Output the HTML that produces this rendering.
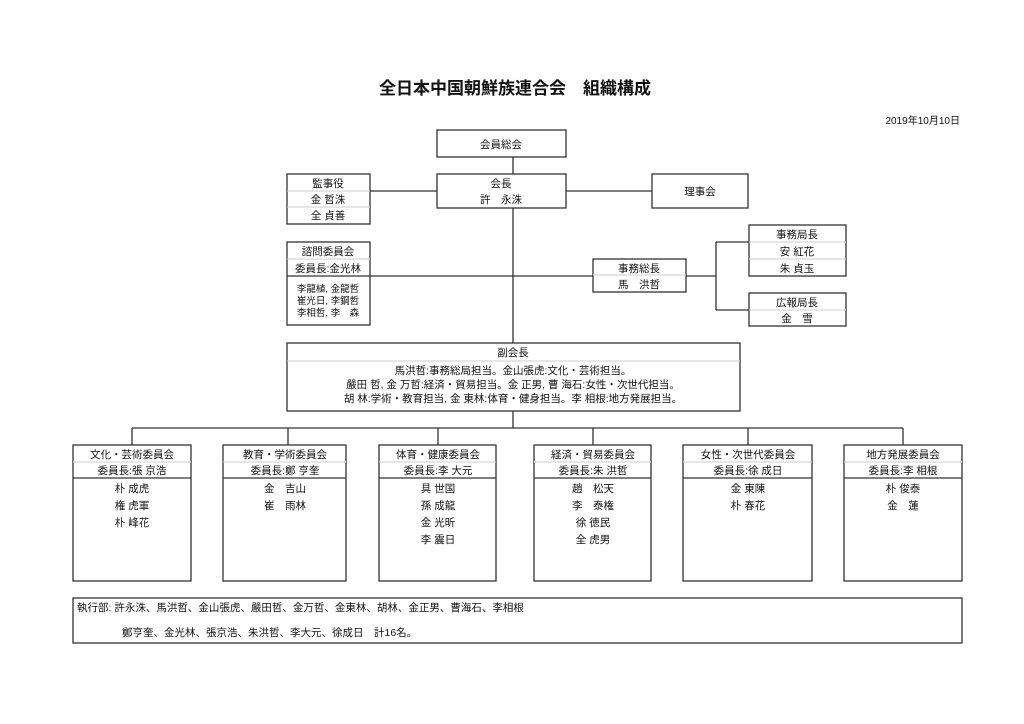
<!DOCTYPE html>
<html><head><meta charset="utf-8"><style>
body{margin:0;background:#fff;}
svg{display:block;}
text{font-family:"Liberation Sans","Noto Sans CJK JP",sans-serif;font-size:10.5px;fill:#111;}
</style></head><body>
<svg width="1024" height="724" viewBox="0 0 1024 724" xmlns="http://www.w3.org/2000/svg">
<g stroke="#333" stroke-width="1.3" fill="none">
<!-- connectors -->
<line x1="513" y1="157" x2="513" y2="174"/>
<line x1="513" y1="208" x2="513" y2="343"/>
<line x1="370" y1="191" x2="437" y2="191"/>
<line x1="566" y1="191" x2="652" y2="191"/>
<line x1="370" y1="276" x2="593" y2="276"/>
<line x1="686" y1="276" x2="716" y2="276"/>
<line x1="716" y1="242" x2="716" y2="310"/>
<line x1="716" y1="242" x2="749" y2="242"/>
<line x1="716" y1="310" x2="749" y2="310"/>
<line x1="513" y1="411" x2="513" y2="428"/>
<line x1="132" y1="428" x2="903" y2="428"/>
<line x1="132" y1="428" x2="132" y2="445"/>
<line x1="288" y1="428" x2="288" y2="445"/>
<line x1="438" y1="428" x2="438" y2="445"/>
<line x1="593" y1="428" x2="593" y2="445"/>
<line x1="748" y1="428" x2="748" y2="445"/>
<line x1="903" y1="428" x2="903" y2="445"/>
<!-- boxes -->
<rect x="437" y="130" width="129" height="27"/>
<rect x="437" y="174" width="129" height="34"/>
<rect x="287" y="174" width="83" height="50"/>
<rect x="652" y="174" width="96" height="34"/>
<rect x="287" y="242" width="83" height="83"/>
<rect x="593" y="259" width="93" height="33"/>
<rect x="749" y="225" width="97" height="51"/>
<rect x="749" y="293" width="97" height="33"/>
<rect x="287" y="343" width="453" height="68"/>
<rect x="73" y="445" width="118" height="136"/>
<rect x="223" y="445" width="123" height="136"/>
<rect x="379" y="445" width="117" height="136"/>
<rect x="534" y="445" width="117" height="136"/>
<rect x="683" y="445" width="129" height="136"/>
<rect x="844" y="445" width="118" height="136"/>
<rect x="73" y="598" width="889" height="45"/>
<!-- dark dividers -->
<line x1="287" y1="276" x2="370" y2="276"/>
<line x1="593" y1="275" x2="686" y2="275" stroke="#ccc" stroke-width="1"/>
<line x1="73" y1="478" x2="191" y2="478"/>
<line x1="223" y1="478" x2="346" y2="478"/>
<line x1="379" y1="478" x2="496" y2="478"/>
<line x1="534" y1="478" x2="651" y2="478"/>
<line x1="683" y1="478" x2="812" y2="478"/>
<line x1="844" y1="478" x2="962" y2="478"/>
</g>
<g stroke="#ccc" stroke-width="1">
<line x1="287" y1="191" x2="370" y2="191"/>
<line x1="287" y1="207" x2="370" y2="207"/>
<line x1="287" y1="259" x2="370" y2="259"/>
<line x1="749" y1="242" x2="846" y2="242"/>
<line x1="749" y1="259" x2="846" y2="259"/>
<line x1="749" y1="310" x2="846" y2="310"/>
<line x1="287" y1="361" x2="740" y2="361"/>
<line x1="73" y1="462" x2="191" y2="462"/>
<line x1="223" y1="462" x2="346" y2="462"/>
<line x1="379" y1="462" x2="496" y2="462"/>
<line x1="534" y1="462" x2="651" y2="462"/>
<line x1="683" y1="462" x2="812" y2="462"/>
<line x1="844" y1="462" x2="962" y2="462"/>
</g>
<text x="515" y="94" text-anchor="middle" style="font-size:17px;font-weight:bold">全日本中国朝鮮族連合会　組織構成</text>
<text x="960" y="124" text-anchor="end" style="font-size:10px">2019年10月10日</text>
<g text-anchor="middle">
<text x="501" y="148">会員総会</text>
<text x="501" y="187">会長</text>
<text x="501" y="203">許　永洙</text>
<text x="328" y="187">監事役</text>
<text x="328" y="203">金 哲洙</text>
<text x="328" y="219">全 貞善</text>
<text x="700" y="195">理事会</text>
<text x="328" y="255">諮問委員会</text>
<text x="328" y="272">委員長:金光林</text>
<text x="328" y="292" style="font-size:9.5px">李龍植, 金龍哲</text>
<text x="328" y="304" style="font-size:9.5px">崔光日, 李鋼哲</text>
<text x="328" y="316" style="font-size:9.5px">李相哲, 李　森</text>
<text x="639" y="272">事務総長</text>
<text x="639" y="288">馬　洪哲</text>
<text x="797" y="238">事務局長</text>
<text x="797" y="255">安 紅花</text>
<text x="797" y="272">朱 貞玉</text>
<text x="797" y="306">広報局長</text>
<text x="797" y="322">金　雪</text>
<text x="513" y="356">副会長</text>
<text x="513" y="374">馬洪哲:事務総局担当。金山張虎:文化・芸術担当。</text>
<text x="513" y="388">嚴田 哲, 金 万哲:経済・貿易担当。金 正男, 曹 海石:女性・次世代担当。</text>
<text x="513" y="402">胡 林:学術・教育担当, 金 東林:体育・健身担当。李 相根:地方発展担当。</text>
<text x="132" y="458">文化・芸術委員会</text><text x="132" y="474">委員長:張 京浩</text>
<text x="132" y="492">朴 成虎</text><text x="132" y="509">権 虎軍</text><text x="132" y="526">朴 峰花</text>
<text x="285" y="458">教育・学術委員会</text><text x="285" y="474">委員長:鄭 亨奎</text>
<text x="285" y="492">金　吉山</text><text x="285" y="509">崔　雨林</text>
<text x="438" y="458">体育・健康委員会</text><text x="438" y="474">委員長:李 大元</text>
<text x="438" y="492">具 世国</text><text x="438" y="509">孫 成龍</text><text x="438" y="526">金 光昕</text><text x="438" y="543">李 震日</text>
<text x="593" y="458">経済・貿易委員会</text><text x="593" y="474">委員長:朱 洪哲</text>
<text x="593" y="492">趙　松天</text><text x="593" y="509">李　泰権</text><text x="593" y="526">徐 徳民</text><text x="593" y="543">全 虎男</text>
<text x="748" y="458">女性・次世代委員会</text><text x="748" y="474">委員長:徐 成日</text>
<text x="748" y="492">金 東陳</text><text x="748" y="509">朴 春花</text>
<text x="903" y="458">地方発展委員会</text><text x="903" y="474">委員長:李 相根</text>
<text x="903" y="492">朴 俊泰</text><text x="903" y="509">金　蓮</text>
</g>
<text x="77" y="611">執行部: 許永洙、馬洪哲、金山張虎、嚴田哲、金万哲、金東林、胡林、金正男、曹海石、李相根</text>
<text x="122" y="636">鄭亨奎、金光林、張京浩、朱洪哲、李大元、徐成日　計16名。</text>
</svg>
</body></html>
